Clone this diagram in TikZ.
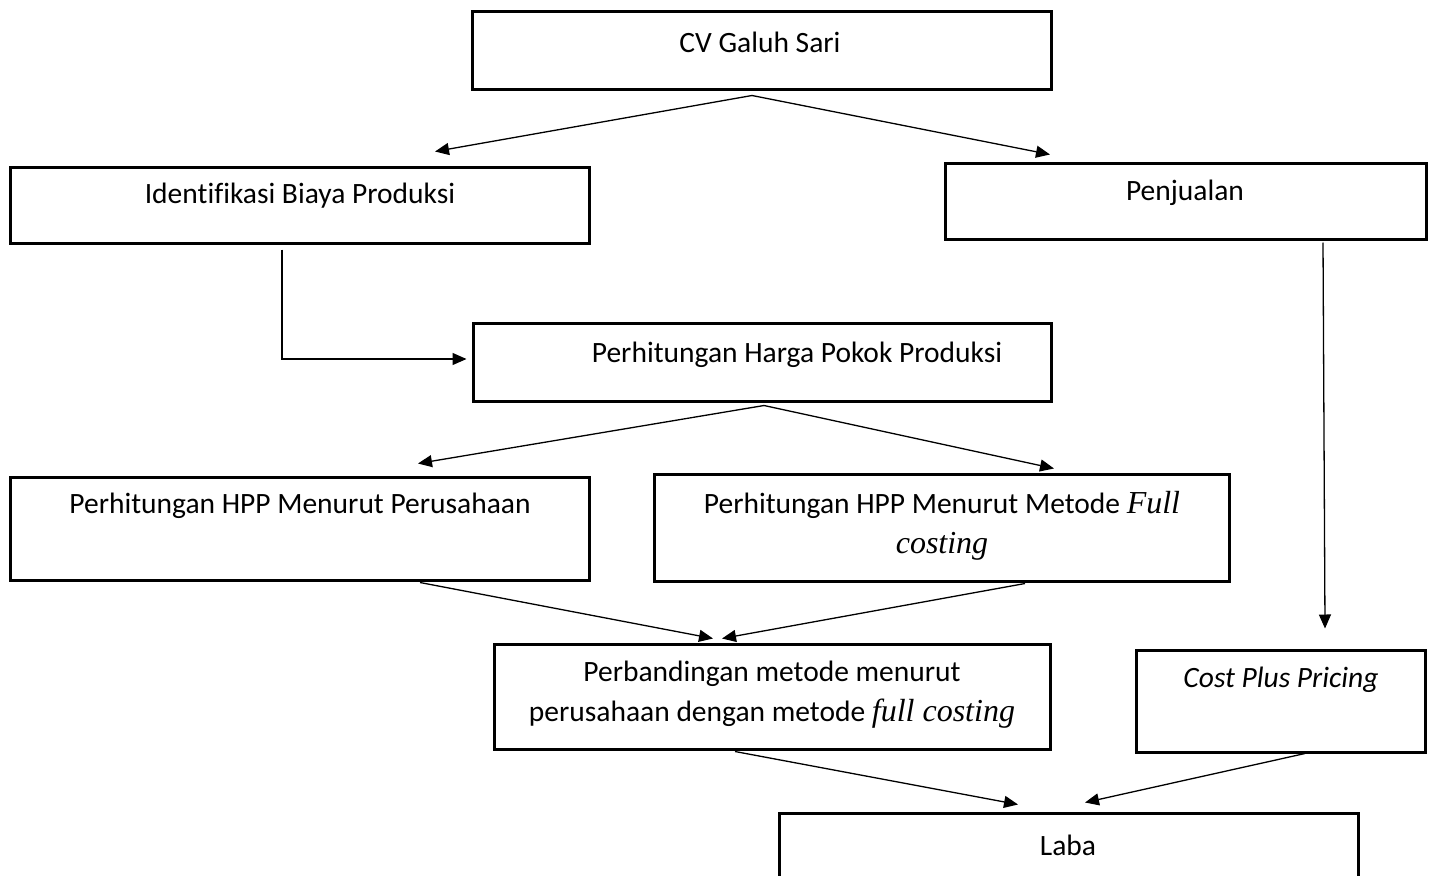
\documentclass[tikz,border=0pt]{standalone}
\usepackage{fontspec}
\setmainfont{Carlito}[Ligatures=NoCommon]
\newfontfamily\tnrfont{Liberation Serif}
\usetikzlibrary{arrows.meta,calc}
\newcommand{\tnrit}[1]{{\tnrfont\itshape\fontsize{32}{40}\selectfont #1}}

\tikzset{
    kotak/.style={draw, line width=3pt, inner sep=0pt},
    teks/.style={font=\fontsize{29.5}{40}\selectfont, align=center, inner sep=0pt},
    panah/.style={line width=1.3pt, -{Triangle[length=14pt,width=12pt]}}
}

\begin{document}
\begin{tikzpicture}[x=1pt,y=-1pt]
    \useasboundingbox (0,0) rectangle (1431,875);
    \clip (0,0) rectangle (1431,875);
    % kotak
    \node[kotak, minimum width=579pt, minimum height=77pt] (cv) at (761.5,50.5) {};
    \node[kotak, minimum width=579pt, minimum height=76pt] (ident) at (299.5,205) {};
    \node[kotak, minimum width=481pt, minimum height=76pt] (jual) at (1185.5,201) {};
    \node[kotak, minimum width=578pt, minimum height=78pt] (hpp) at (762,362) {};
    \node[kotak, minimum width=579pt, minimum height=103pt] (hppusaha) at (299.5,528.5) {};
    \node[kotak, minimum width=575pt, minimum height=107pt] (hppfull) at (941.5,527.5) {};
    \node[kotak, minimum width=556pt, minimum height=105pt] (banding) at (772,696.5) {};
    \node[kotak, minimum width=289pt, minimum height=102pt] (cpp) at (1280.5,701) {};
    \node[kotak, minimum width=579pt, minimum height=120pt] (laba) at (1068.5,873) {};
    % teks
    \node[teks] (cvteks) at (760,42) {CV Galuh Sari};
    \node[teks] (identteks) at (300,196) {Identifikasi Biaya Produksi};
    \node[teks] (jualteks) at (1185,193) {Penjualan};
    \node[teks] (hppteks) at (797,355) {Perhitungan Harga Pokok Produksi};
    \node[teks] (hppusahateks) at (300,506) {Perhitungan HPP Menurut Perusahaan};
    \node[teks] (hppfullteks) at (942,526) {Perhitungan HPP Menurut Metode \tnrit{Full}\\\tnrit{costing}};
    \node[teks] (bandingteks) at (772,695) {Perbandingan metode menurut\\perusahaan dengan metode \tnrit{full costing}};
    \node[teks] (cppteks) at (1281,680) {\itshape Cost Plus Pricing};
    \node[teks] (labateks) at (1068,845) {Laba};
    % panah
    \draw[panah] ($(cv.south)+(-9.5,5)$) -- ($(ident.north)+(135.5,-14)$);
    \draw[panah] ($(cv.south)+(-9.5,5)$) -- ($(jual.north)+(-135.5,-7)$);
    \draw[panah] ($(ident.south)+(-17.5,5)$) |- ($(hpp.west)+(-5,-3)$);
    \draw[panah] ($(jual.south)+(137.5,2)$) -- ($(cpp.north)+(44.5,-20)$);
    \draw[panah] ($(hpp.south)+(2,3)$) -- ($(hppusaha.north)+(118.5,-12)$);
    \draw[panah] ($(hpp.south)+(2,3)$) -- ($(hppfull.north)+(112.5,-4)$);
    \draw[panah] ($(hppusaha.south)+(120.5,1)$) -- ($(banding.north)+(-59,-4)$);
    \draw[panah] ($(hppfull.south)+(83.5,1)$) -- ($(banding.north)+(-50,-4)$);
    \draw[panah] ($(banding.south)+(-37,1)$) -- ($(laba.north)+(-50.5,-7)$);
    \draw[panah] ($(cpp.south)+(24.5,0)$) -- ($(laba.north)+(16.5,-9)$);
\end{tikzpicture}
\end{document}
